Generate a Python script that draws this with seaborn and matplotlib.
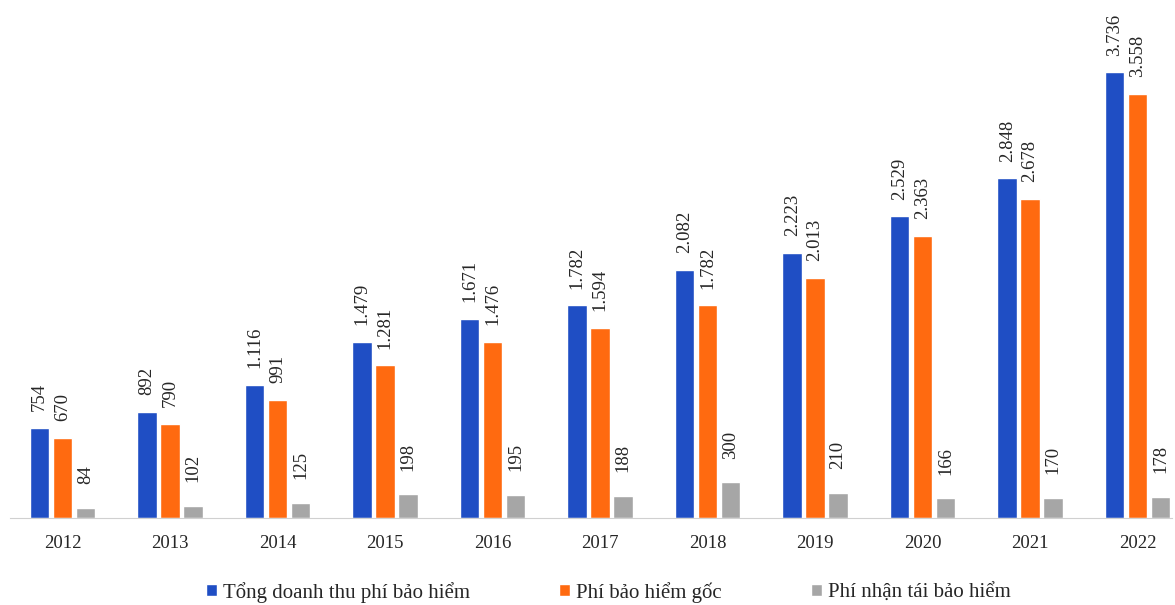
import pandas as pd
import matplotlib.pyplot as plt
import seaborn as sns

# Dữ liệu (tỷ đồng)
nam = ['2012', '2013', '2014', '2015', '2016', '2017', '2018', '2019', '2020', '2021', '2022']
tong_doanh_thu = [754, 892, 1116, 1479, 1671, 1782, 2082, 2223, 2529, 2848, 3736]
phi_goc = [670, 790, 991, 1281, 1476, 1594, 1782, 2013, 2363, 2678, 3558]
phi_tai = [84, 102, 125, 198, 195, 188, 300, 210, 166, 170, 178]
series = ['Tổng doanh thu phí bảo hiểm', 'Phí bảo hiểm gốc', 'Phí nhận tái bảo hiểm']
mau = ['#1F4EC4', '#FF6A10', '#A6A6A6']

df = pd.DataFrame({'Nam': nam * 3,
                   'Loai': [series[0]] * 11 + [series[1]] * 11 + [series[2]] * 11,
                   'GiaTri': tong_doanh_thu + phi_goc + phi_tai})

sns.set_style('white')
plt.rcParams['font.family'] = ['Liberation Serif', 'DejaVu Serif']

fig = plt.figure(figsize=(11.75, 6.05), dpi=100)
ax = fig.add_axes([10 / 1175, 87 / 605, 1162 / 1175, 513 / 605])

sns.barplot(data=df, x='Nam', y='GiaTri', hue='Loai', palette=mau, saturation=1,
            width=0.64, gap=0.15, ax=ax, legend=True)

# nhãn số liệu, dấu chấm phân cách hàng nghìn
for i, cont in enumerate(ax.containers):
    nhan = [f'{v:,.0f}'.replace(',', '.') for v in cont.datavalues]
    ax.bar_label(cont, labels=nhan, rotation=90, padding=17 if i == 2 else 12,
                 fontsize=13.5)

ax.set_xlim(-0.49, 10.32)
ax.set_ylim(0, 4300)
ax.set_xlabel('')
ax.set_ylabel('')
ax.set_yticks([])
ax.tick_params(axis='x', length=0, labelsize=13.5, pad=12)
for s in ['top', 'right', 'left']:
    ax.spines[s].set_visible(False)
ax.spines['bottom'].set_color('#D0D0D0')

ax.legend(loc='upper center', bbox_to_anchor=(0.515, -0.088), ncol=3, frameon=False,
          fontsize=15, handlelength=0.5, handleheight=0.5, handletextpad=0.3,
          columnspacing=4.3)

plt.savefig('out.png', dpi=100)
